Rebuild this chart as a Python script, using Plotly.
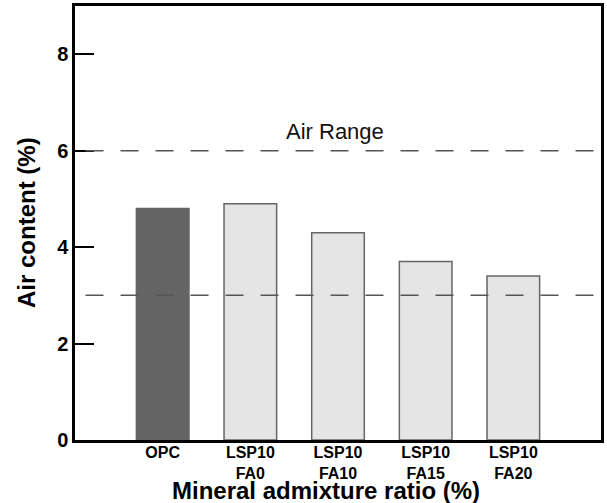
import plotly.graph_objects as go

categories = ["OPC", "LSP10<br>FA0", "LSP10<br>FA10", "LSP10<br>FA15", "LSP10<br>FA20"]
air_content = [4.8, 4.9, 4.3, 3.7, 3.4]
bar_colors = ["#656565", "#e5e5e5", "#e5e5e5", "#e5e5e5", "#e5e5e5"]
range_limits = [3, 6]
y_ticks = [0, 2, 4, 6, 8]

x_pos = list(range(len(categories)))

fig = go.Figure()
fig.add_trace(go.Bar(
    x=x_pos, y=air_content, width=0.6,
    marker=dict(color=bar_colors, line=dict(color="#666666", width=1.5)),
    showlegend=False,
))

for yv in range_limits:
    fig.add_shape(type="line", xref="paper", yref="y", x0=0.02, x1=1, y0=yv, y1=yv,
                  line=dict(color="#555555", width=1.5, dash="18px,17px"), layer="above")

fig.add_annotation(x=2, y=6, xref="x", yref="y", text="Air Range", showarrow=False,
                   yshift=19, xshift=-3, font=dict(family="Arial", size=22, color="#111111"))

fig.add_annotation(x=0.0, y=0.5, xref="paper", yref="paper", xanchor="center", yanchor="middle",
                   xshift=-49, text="<b>Air content (%)</b>", textangle=-90, showarrow=False,
                   font=dict(family="Arial", size=24, color="black"))
fig.add_annotation(x=0.5, y=0, xref="paper", yref="paper", xanchor="center", yanchor="middle",
                   yshift=-50, xshift=-12, text="<b>Mineral admixture ratio (%)</b>", showarrow=False,
                   font=dict(family="Arial", size=24, color="black"))

fig.update_xaxes(range=[-1, 5], tickvals=x_pos, ticktext=[f"<b>{c}</b>" for c in categories],
                 showline=True, linecolor="black", linewidth=2.5, mirror=True,
                 ticks="", showgrid=False, zeroline=False, ticklabelstandoff=-4,
                 tickfont=dict(family="Arial", size=16, color="black"))
fig.update_yaxes(range=[0, 9], tickvals=y_ticks, ticktext=[f"<b>{v}</b>" for v in y_ticks],
                 showline=True, linecolor="black", linewidth=2.5, mirror=True,
                 ticks="inside", ticklen=19, tickwidth=2, tickcolor="black",
                 showgrid=False, zeroline=False,
                 tickfont=dict(family="Arial", size=20, color="black"))

fig.update_layout(
    width=607, height=503,
    margin=dict(l=75, r=3, t=5, b=63),
    plot_bgcolor="white", paper_bgcolor="white",
    bargap=0.4,
)

fig.write_html("out.html")
